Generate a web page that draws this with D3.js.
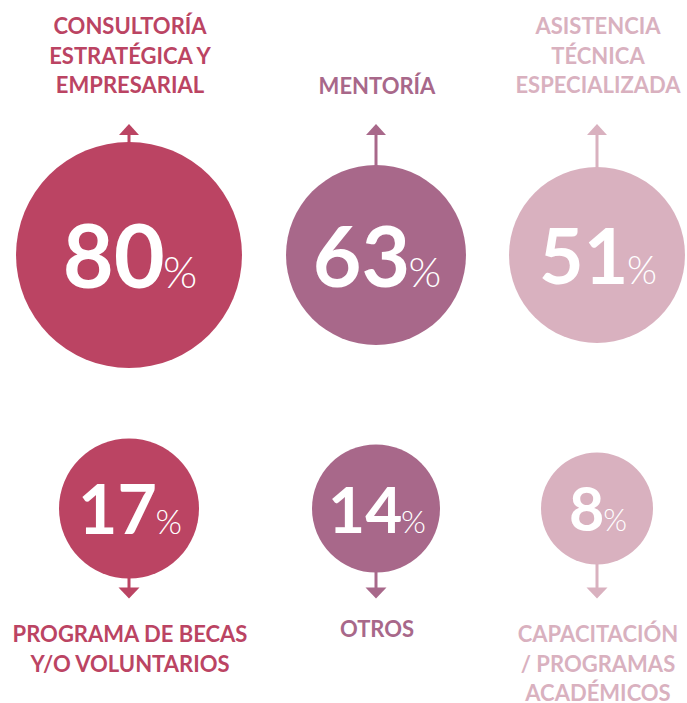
<!DOCTYPE html>
<html>
<head>
<meta charset="utf-8">
<script src="https://cdn.jsdelivr.net/npm/d3@7"></script>
<style>
  body { margin: 0; background: #fff; }
  svg { display: block; font-family: Lato, "Open Sans", sans-serif; }
</style>
</head>
<body>
<div id="chart"></div>
<script>
var categories = ["consultoria", "mentoria", "asistencia", "becas", "otros", "capacitacion"];
var values = [80, 63, 51, 17, 14, 8];
var labels = [
    ["CONSULTORÍA", "ESTRATÉGICA Y", "EMPRESARIAL"],
    ["MENTORÍA"],
    ["ASISTENCIA", "TÉCNICA", "ESPECIALIZADA"],
    ["PROGRAMA DE BECAS", "Y/O VOLUNTARIOS"],
    ["OTROS"],
    ["CAPACITACIÓN", "/ PROGRAMAS", "ACADÉMICOS"]
];
var columnOf = [0, 1, 2, 0, 1, 2];
var rowOf = [0, 0, 0, 1, 1, 1];

var width = 687, height = 703;

var colors = ["#bb4463", "#a8688a", "#d9b1bf"];

var xScale = d3.scaleOrdinal().domain([0, 1, 2]).range([129, 376, 597]);
var yScale = d3.scaleOrdinal().domain([0, 1]).range([255, 508.5]);
// bubble sizes in the original are hand tuned, not proportional
var rScale = d3.scaleLinear().domain([8, 14, 17, 51, 63, 80]).range([56, 64, 70, 88, 90, 113]);
var fontScale = d3.scaleLinear().domain([8, 14, 17, 51, 63, 80]).range([61, 64, 68, 77, 84, 88]);

var data = values.map(function(v, i) {
    return {
        key: categories[i],
        value: v,
        lines: labels[i],
        col: columnOf[i],
        row: rowOf[i]
    };
});

var svg = d3.select("#chart")
    .append("svg")
    .attr("width", width)
    .attr("height", height);

var item = svg.selectAll(".item")
    .data(data)
    .enter()
    .append("g")
    .attr("class", "item");

// arrow stems
item.append("line")
    .attr("x1", function(d) { return xScale(d.col); })
    .attr("x2", function(d) { return xScale(d.col); })
    .attr("y1", function(d) { return d.row == 0 ? yScale(0) - rScale(d.value) + 1 : yScale(1) + rScale(d.value) - 1; })
    .attr("y2", function(d) { return d.row == 0 ? 134 : 588; })
    .attr("stroke", function(d) { return colors[d.col]; })
    .attr("stroke-width", 3);

// arrow heads
item.append("path")
    .attr("d", function(d) {
        var x = xScale(d.col);
        if (d.row == 0) return "M" + (x - 10) + ",135 L" + (x + 10) + ",135 L" + x + ",124 Z";
        return "M" + (x - 10.5) + ",587.5 L" + (x + 10.5) + ",587.5 L" + x + ",598.5 Z";
    })
    .attr("fill", function(d) { return colors[d.col]; });

item.append("circle")
    .attr("cx", function(d) { return xScale(d.col); })
    .attr("cy", function(d) { return yScale(d.row); })
    .attr("r", function(d) { return rScale(d.value); })
    .attr("fill", function(d) { return colors[d.col]; });

var num = item.append("text")
    .attr("x", function(d) { return xScale(d.col) + 1; })
    .attr("y", function(d) { return yScale(d.row) + fontScale(d.value) * 0.375; })
    .attr("text-anchor", "middle")
    .attr("fill", "#fff");

num.append("tspan")
    .attr("font-size", function(d) { return fontScale(d.value); })
    .attr("font-weight", 700)
    .text(function(d) { return d.value; });

num.append("tspan")
    .attr("dx", function(d) { return -fontScale(d.value) * 0.02; })
    .attr("font-size", function(d) { return fontScale(d.value) * 0.5; })
    .attr("font-weight", 300)
    .text("%");

// category labels, top row stacks upward, bottom row downward
item.each(function(d) {
    var g = d3.select(this);
    var n = d.lines.length;
    var first = d.row == 0 ? 94 - (n - 1) * 30 : (n == 1 ? 637 : 642);
    g.selectAll(".label")
        .data(d.lines)
        .enter()
        .append("text")
        .attr("class", "label")
        .attr("x", xScale(d.col) + 1)
        .attr("y", function(t, i) { return first + i * 29.5; })
        .attr("text-anchor", "middle")
        .attr("font-size", 22)
        .attr("font-weight", 700)
        .attr("fill", colors[d.col])
        .text(function(t) { return t; });
});
</script>
</body>
</html>
